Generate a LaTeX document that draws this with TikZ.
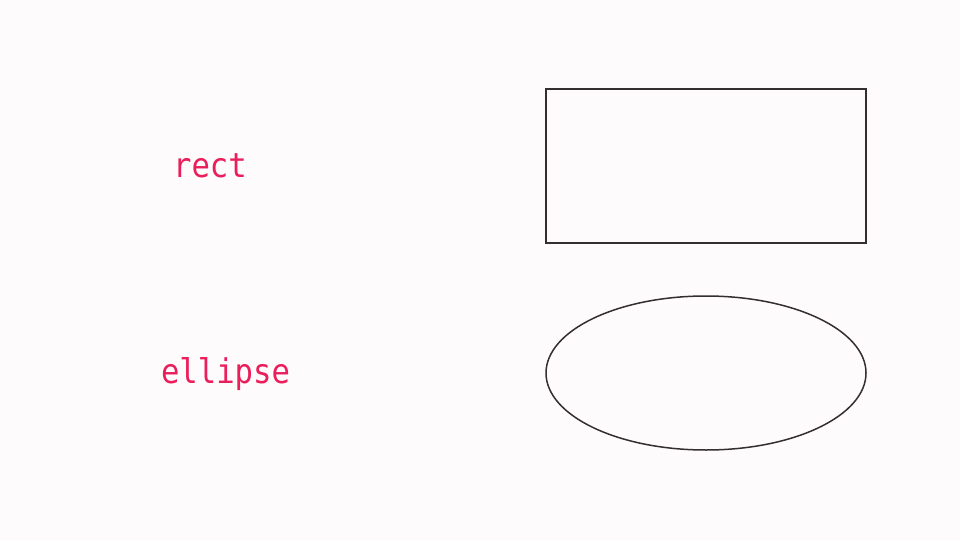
\documentclass[tikz,border=0pt]{standalone}
\usepackage{fontspec}
\newfontfamily\codefont[FakeStretch=0.9]{DejaVu Sans Mono}
\definecolor{bgpink}{RGB}{254,251,253}
\definecolor{labelred}{RGB}{233,30,90}
\definecolor{strokegray}{RGB}{51,46,50}

\begin{document}
\begin{tikzpicture}[x=1pt,y=-1pt,
    label/.style={text=labelred,font=\codefont\fontsize{34}{38}\selectfont,anchor=base,inner sep=0pt},
    shapeline/.style={draw=strokegray,line width=1.5pt}]

		\fill[bgpink] (0,0) rectangle (960,540);
		\useasboundingbox (0,0) rectangle (960,540);

		\coordinate (R1) at (546,89) ;
		\coordinate (R2) at (866,243) ;
		\coordinate (E) at (706,373) ;

		\node[label] (rect) at (210,177.5) {rect};
		\node[label] (ellipse) at (225.5,383.5) {ellipse};

		\draw[shapeline] (R1) rectangle (R2); %矩形
		\draw[shapeline] (E) ellipse [x radius=160, y radius=77]; %楕円
\end{tikzpicture}
\end{document}
